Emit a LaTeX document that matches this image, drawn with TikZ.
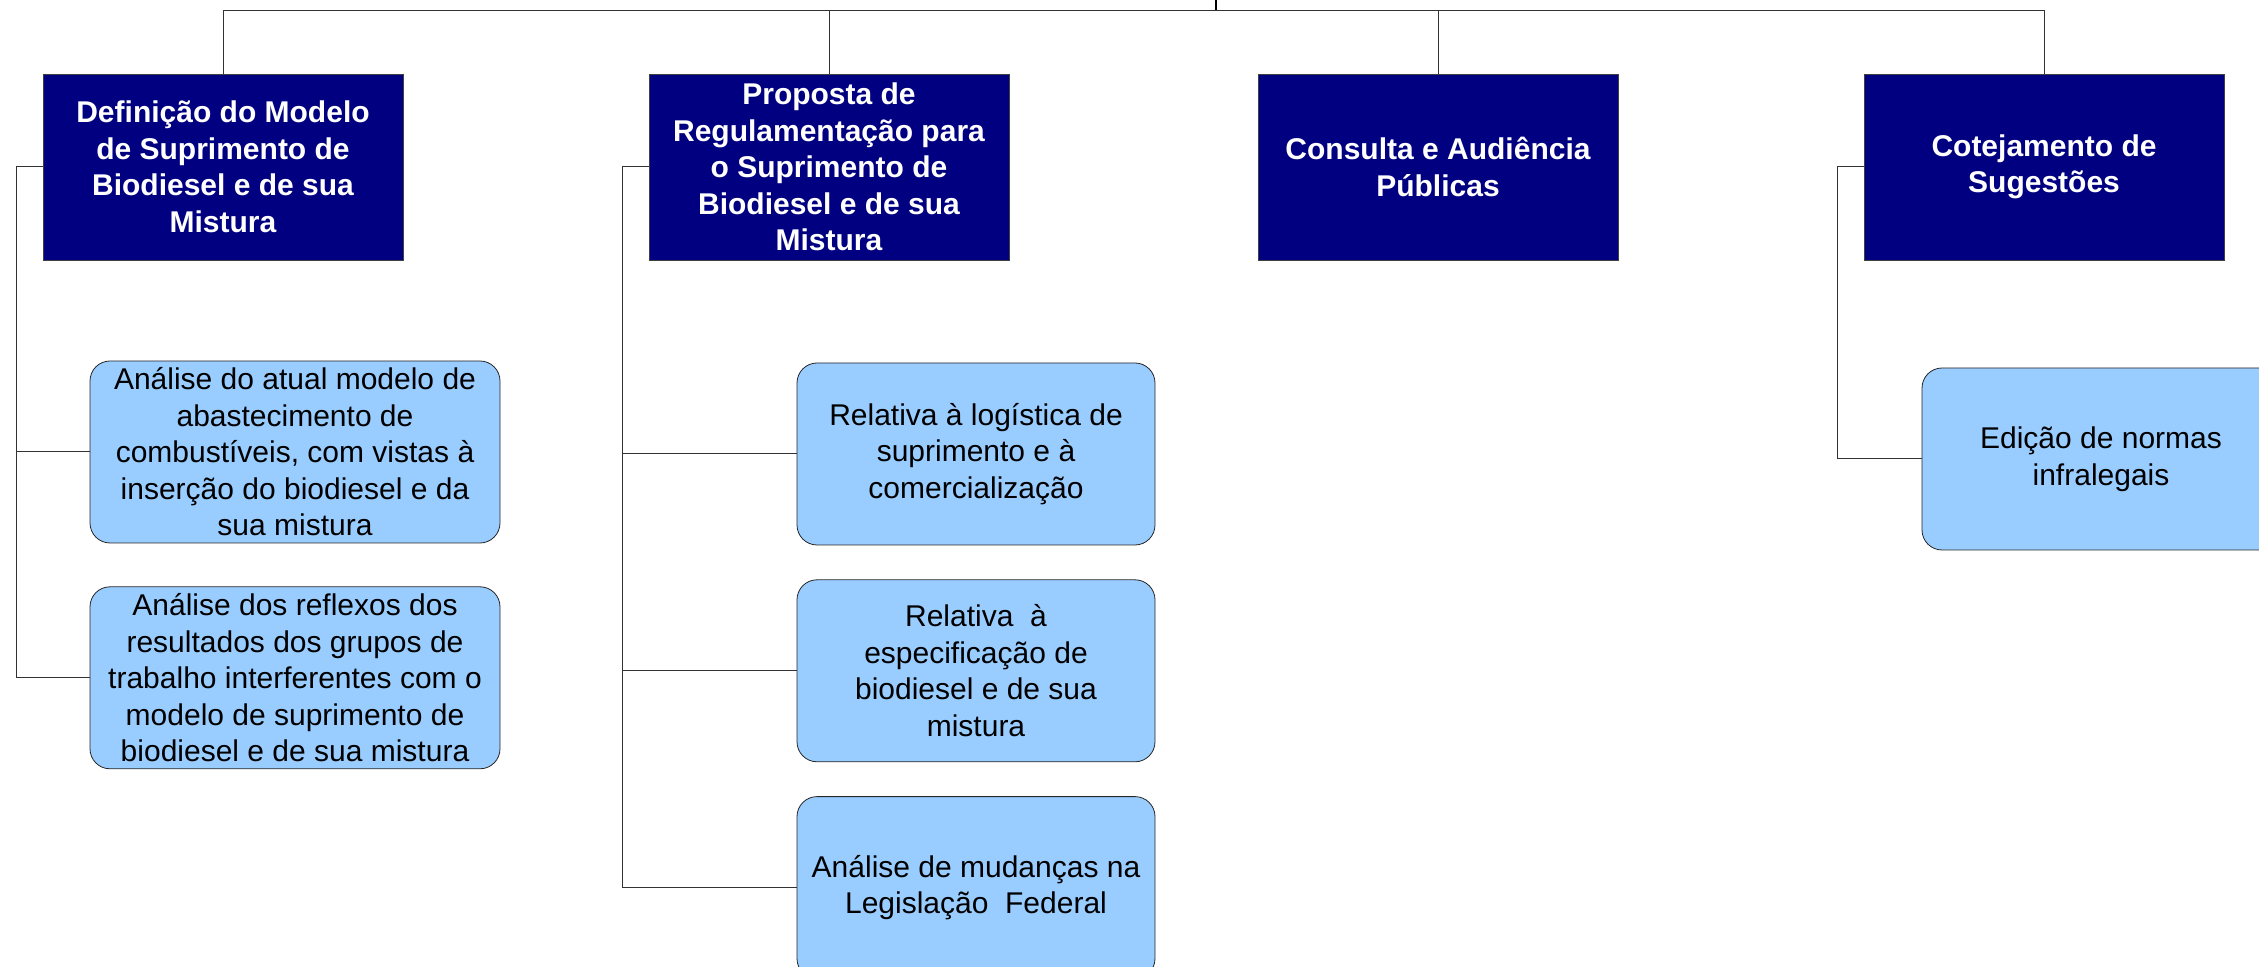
\documentclass[tikz,border=0pt]{standalone}
\usepackage{fontspec}
\setmainfont{Liberation Sans}
\usepackage{xcolor}
\usepackage{tikz}
\usetikzlibrary{positioning}
\definecolor{navybox}{RGB}{0,0,128}
\definecolor{skybox}{RGB}{153,204,255}
\tikzset{
topbox/.style={draw=black!75, fill=navybox, text=white, align=center, font=\fontsize{15pt}{18.25pt}\selectfont\bfseries, minimum width=180pt, minimum height=93pt, inner sep=0pt}, % dark boxes of the first level
leafbox/.style={draw=black!85, fill=skybox, align=center, font=\fontsize{15pt}{18.25pt}\selectfont, rounded corners=10pt, minimum height=91pt, inner sep=0pt}, % light boxes hanging below them
conn/.style={draw=black!80, line width=0.5pt}, % thin lines between the boxes
node distance=17pt, % gap between stacked boxes
}

\begin{document}
\begin{tikzpicture}[x=0.5pt,y=-0.5pt]
        \useasboundingbox (0,0) rectangle (2259,967);
        \clip (0,0) rectangle (2259,967);
        \coordinate (root) at (1216,0);
        \coordinate (bus) at (1216,11);

        % first level
        \node[topbox] (def) at (223,167) {Definição do Modelo\\de Suprimento de\\Biodiesel e de sua\\Mistura};
        \node[topbox] (prop) at (829,167) {Proposta de\\Regulamentação para\\o Suprimento de\\Biodiesel e de sua\\Mistura};
        \node[topbox] (cons) at (1438,167) {Consulta e Audiência\\Públicas};
        \node[topbox] (cot) at (2044,167) {Cotejamento de\\Sugestões};

        % second level
        \node[leafbox, minimum width=205pt] (def1) at (295,452) {Análise do atual modelo de\\abastecimento de\\combustíveis, com vistas à\\inserção do biodiesel e da\\sua mistura};
        \node[leafbox, minimum width=205pt, below=21.5pt of def1] (def2) {Análise dos reflexos dos\\resultados dos grupos de\\trabalho interferentes com o\\modelo de suprimento de\\biodiesel e de sua mistura};
        \node[leafbox, minimum width=179pt] (prop1) at (976,454) {Relativa à logística de\\suprimento e à\\comercialização};
        \node[leafbox, minimum width=179pt, below=of prop1] (prop2) {Relativa\ \ à\\especificação de\\biodiesel e de sua\\mistura};
        \node[leafbox, minimum width=179pt, below=of prop2] (prop3) {Análise de mudanças na\\Legislação\ \ Federal};
        \node[leafbox, minimum width=179pt] (cot1) at (2101,459) {Edição de normas\\infralegais};

        \draw[line width=1pt] (root) -- (bus);
        \draw[conn] (bus) -| (def.north);
        \draw[conn] (bus) -| (prop.north);
        \draw[conn] (bus) -| (cons.north);
        \draw[conn] (bus) -| (cot.north);

        \draw[conn] (def.west) -- ++(-26,0) |- (def1.west);
        \draw[conn] (def.west) -- ++(-26,0) |- (def2.west);
        \draw[conn] (prop.west) -- ++(-26,0) |- (prop1.west);
        \draw[conn] (prop.west) -- ++(-26,0) |- (prop2.west);
        \draw[conn] (prop.west) -- ++(-26,0) |- (prop3.west);
        \draw[conn] (cot.west) -- ++(-26,0) |- (cot1.west);
\end{tikzpicture}
\end{document}
